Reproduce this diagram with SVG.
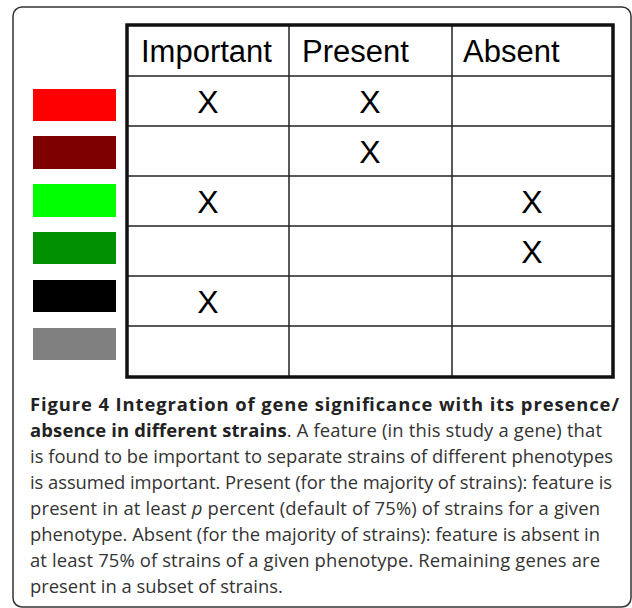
<svg xmlns="http://www.w3.org/2000/svg" width="632" height="608" viewBox="0 0 632 608">
<style>
.hdr{font-family:"Liberation Sans",Arial,sans-serif;font-size:31px;fill:#000}
.x{font-family:"Liberation Sans",Arial,sans-serif;font-size:32px;fill:#000;text-anchor:middle}
.grid{stroke:#222;stroke-width:1.5;fill:none}
.cap{font-family:"Open Sans",sans-serif;font-size:18.4px;fill:#333}
.b{font-weight:bold;fill:#222}
</style>
<rect x="0" y="0" width="632" height="608" fill="#fff"/>
<rect id="frame" x="13" y="7" width="618" height="600" rx="9" fill="none" stroke="#333" stroke-width="1.5"/>
<g id="legend">
<rect x="33" y="89" width="83" height="32" fill="#ff0000"/>
<rect x="33" y="136" width="83" height="33" fill="#7f0000"/>
<rect x="33" y="184" width="83" height="33" fill="#00ff00"/>
<rect x="33" y="232" width="83" height="32" fill="#009000"/>
<rect x="33" y="280" width="83" height="32" fill="#000000"/>
<rect x="33" y="328" width="83" height="32" fill="#808080"/>
</g>
<g id="table">
<g class="grid">
<line x1="127" y1="76" x2="613" y2="76"/>
<line x1="127" y1="126" x2="613" y2="126"/>
<line x1="127" y1="176" x2="613" y2="176"/>
<line x1="127" y1="226" x2="613" y2="226"/>
<line x1="127" y1="276" x2="613" y2="276"/>
<line x1="127" y1="326" x2="613" y2="326"/>
<line x1="289" y1="25" x2="289" y2="377"/>
<line x1="452" y1="25" x2="452" y2="377"/>
</g>
<rect x="127" y="25" width="486" height="352" fill="none" stroke="#111" stroke-width="3.5"/>
<text class="hdr" x="141" y="62">Important</text>
<text class="hdr" x="302" y="62">Present</text>
<text class="hdr" x="463" y="62">Absent</text>
<text class="x" x="208" y="113">X</text>
<text class="x" x="370" y="113">X</text>
<text class="x" x="370" y="163">X</text>
<text class="x" x="208" y="213">X</text>
<text class="x" x="532" y="213">X</text>
<text class="x" x="532" y="263">X</text>
<text class="x" x="208" y="313">X</text>
</g>
<g id="caption" class="cap">
<text x="30" y="411" textLength="589" lengthAdjust="spacing"><tspan class="b">Figure 4 Integration of gene significance with its presence/</tspan></text>
<text x="30" y="437" textLength="572" lengthAdjust="spacing"><tspan class="b">absence in different strains</tspan>. A feature (in this study a gene) that</text>
<text x="30" y="463" textLength="583" lengthAdjust="spacing">is found to be important to separate strains of different phenotypes</text>
<text x="30" y="489" textLength="582" lengthAdjust="spacing">is assumed important. Present (for the majority of strains): feature is</text>
<text x="30" y="515" textLength="570" lengthAdjust="spacing">present in at least <tspan font-style="italic">p</tspan> percent (default of 75%) of strains for a given</text>
<text x="30" y="541" textLength="570" lengthAdjust="spacing">phenotype. Absent (for the majority of strains): feature is absent in</text>
<text x="30" y="567" textLength="570" lengthAdjust="spacing">at least 75% of strains of a given phenotype. Remaining genes are</text>
<text x="30" y="593">present in a subset of strains.</text>
</g>
</svg>
